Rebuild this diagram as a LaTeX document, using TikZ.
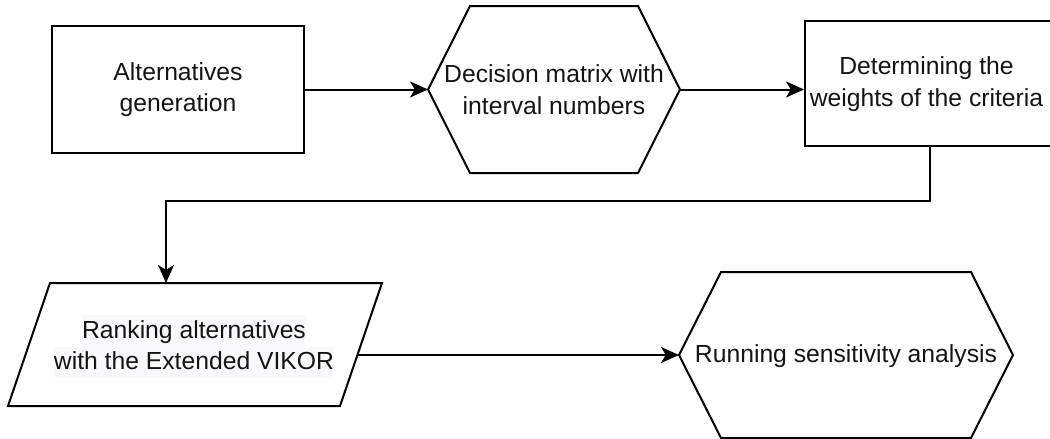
\documentclass[tikz,border=0pt]{standalone}
\usepackage{fontspec}
\setmainfont{Liberation Sans}
\usetikzlibrary{arrows.meta}
\definecolor{labelbg}{HTML}{F8F9FA}
% light band behind a line of text, one full line high
\newcommand\hilite[1]{{\setlength{\fboxsep}{0pt}\colorbox{labelbg}{\rule[-4.2pt]{0pt}{15.8pt}#1}}}

\begin{document}
\begin{tikzpicture}[
  x=0.5pt, y=-0.5pt,
  outline/.style={draw=black, line width=1pt, line join=miter},
  txt/.style={font=\fontsize{12.35pt}{15.8pt}\selectfont, align=center, inner sep=0pt, text=black!92},
  boxnode/.style={outline, txt, rectangle},
  arr/.style={draw=black, line width=1pt, -{Stealth[length=9pt,width=8pt,inset=2.4pt]}}
]
\useasboundingbox (0,0) rectangle (1050,439);

% step 1: plain process box
\node[boxnode, minimum width=126pt, minimum height=63.5pt] (alt) at (178,89.5)
  {Alternatives\\generation};

% step 2: hexagon
\coordinate (dec-l) at (428,89.5);
\coordinate (dec-r) at (680,89.5);
\draw[outline] (dec-l) -- (470,6) -- (638,6) -- (dec-r) -- (638,173) -- (470,173) -- cycle;
\node[txt] (dec) at (554,89.5) {Decision matrix with\\interval numbers};

% step 3: process box running off the right edge
\node[boxnode, minimum width=124.5pt, minimum height=62.5pt] (wgt) at (929.5,83.5)
  {};
\node[txt] (wgt-text) at (926.5,84) {Determining the\\weights of the criteria};

% step 4: parallelogram
\coordinate (rank-in) at (166,283);
\coordinate (rank-out) at (357.4,355);
\draw[outline] (50,283) -- (382,283) -- (340,406) -- (8,406) -- cycle;
\node[txt] (rank) at (194,346.5)
  {\hilite{Ranking alternatives}\\\hilite{with the Extended VIKOR}};

% step 5: hexagon
\coordinate (sens-l) at (679,355);
\coordinate (sens-r) at (1013,355);
\draw[outline] (sens-l) -- (721,272) -- (971,272) -- (sens-r) -- (971,438) -- (721,438) -- cycle;
\node[txt] (sens) at (846,356) {Running sensitivity analysis};

% connectors
\draw[arr] (alt.east |- dec-l) -- (dec-l);
\draw[arr] (dec-r) -- (dec-r -| wgt.west);
\draw[arr] (wgt.south) -- ++(0,54) -| (rank-in);
\draw[arr] (rank-out) -- (sens-l);
\end{tikzpicture}
\end{document}
